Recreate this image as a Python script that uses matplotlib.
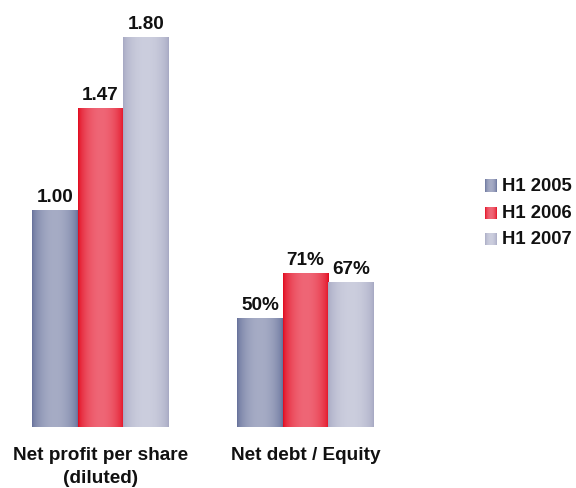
import numpy as np
import matplotlib
matplotlib.use("Agg")
import matplotlib.pyplot as plt
from matplotlib.colors import to_rgb

plt.rcParams['font.family'] = ['Liberation Sans', 'DejaVu Sans']

categories = ["Net profit per share\n(diluted)", "Net debt / Equity"]
series = ["H1 2005", "H1 2006", "H1 2007"]
values = {
    "H1 2005": [1.00, 0.50],
    "H1 2006": [1.47, 0.71],
    "H1 2007": [1.80, 0.67],
}
labels = {
    "H1 2005": ["1.00", "50%"],
    "H1 2006": ["1.47", "71%"],
    "H1 2007": ["1.80", "67%"],
}
dark = {"H1 2005": "#66719a", "H1 2006": "#e20a1e", "H1 2007": "#a7a9c3"}
light = {"H1 2005": "#a6acc5", "H1 2006": "#ef6676", "H1 2007": "#cccede"}

W, H = 576, 489
fig = plt.figure(figsize=(W / 100, H / 100), dpi=100)

def px_axes(x0, y0, x1, y1):
    return fig.add_axes([x0 / W, (H - y1) / H, (x1 - x0) / W, (y1 - y0) / H])

ax = px_axes(0, 10, 410, 428)

def grad_img(name, n=64):
    t = np.linspace(0, 1, n)
    f = np.sin(np.pi * t) ** 0.6
    d = np.array(to_rgb(dark[name]))
    l = np.array(to_rgb(light[name]))
    return (d[None, :] * (1 - f[:, None]) + l[None, :] * f[:, None])[None, :, :]

bw = 45.5 / 205
x = np.arange(len(categories))
for i, s in enumerate(series):
    bars = ax.bar(x + (i - 1) * bw, values[s], width=bw, color='none', edgecolor='none')
    img = grad_img(s)
    for b, lab in zip(bars, labels[s]):
        x0, w, h = b.get_x(), b.get_width(), b.get_height()
        ax.imshow(img, extent=[x0, x0 + w, 0, h], aspect='auto', interpolation='bilinear', zorder=2)
        ax.annotate(lab, (x0 + w / 2, h), xytext=(0, 6.8), textcoords='offset points',
                    ha='center', va='baseline', fontsize=13.6, fontweight='bold', color='#111111')
ax.set_xlim(-100.5 / 205, 309.5 / 205)
ax.set_ylim(0, 418 / 216.4)

ax.set_xticks(x)
ax.set_xticklabels(categories, fontsize=13.7, fontweight='bold', color='#111111', linespacing=1.42)
ax.tick_params(axis='x', length=0, pad=14)
ax.set_yticks([])
for sp in ax.spines.values():
    sp.set_visible(False)

# legend
lax = px_axes(480, 160, 576, 260)
lax.axis('off')
rows = [187, 213.5, 240]
for s, yc in zip(series, rows):
    lax.imshow(grad_img(s), extent=[485, 497, yc + 6, yc - 6], aspect='auto', interpolation='bilinear')
    lax.text(502, yc, s, ha='left', va='center', fontsize=13.3, fontweight='bold', color='#111111')
lax.set_xlim(480, 576)
lax.set_ylim(260, 160)

fig.savefig("out.png", dpi=100)
